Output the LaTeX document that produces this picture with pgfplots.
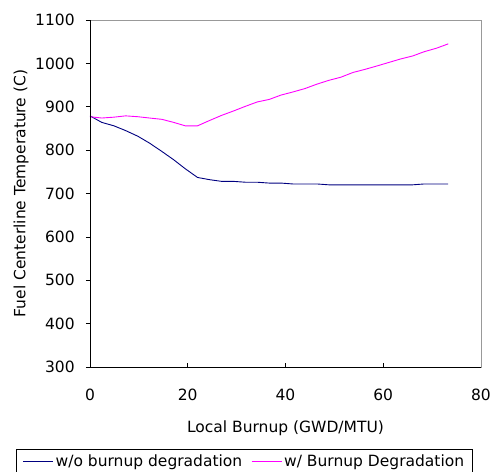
\documentclass[border=0pt]{standalone}
\usepackage{pgfplots}
\pgfplotsset{compat=1.18}
\usepackage{fontspec}
\setmainfont{DejaVu Sans}
\definecolor{navyline}{HTML}{000080}
\definecolor{magline}{HTML}{FF00FF}
\newcommand{\tf}{\fontsize{15.5pt}{18pt}\selectfont}
\begin{document}
\tf
\begin{tikzpicture}[x=1pt,y=1pt]
\useasboundingbox (-90,-105) rectangle (401,367);
\begin{axis}[
  at={(0,0)}, anchor=south west,
  width=391pt, height=347pt, scale only axis,
  xmin=0, xmax=80, ymin=300, ymax=1100,
  xtick={0,20,40,60,80}, ytick={300,400,...,1100},
  xtick pos=bottom, ytick pos=left,
  xtick align=inside, ytick align=outside,
  major tick length=4pt,
  tick style={black, line width=0.6pt},
  axis line style={draw=gray!80, line width=0.8pt},
  /pgf/number format/assume math mode=true,
  /pgf/number format/1000 sep={},
  ticklabel style={font=\tf},
  xticklabel style={yshift=-17pt},
  yticklabel style={xshift=-6pt},
  label style={font=\tf},
  xlabel={Local Burnup (GWD/MTU)},
  ylabel={Fuel Centerline Temperature (C)},
  xlabel style={yshift=-9pt},
  ylabel style={yshift=-4pt},
  legend columns=2,
  legend style={at={(0.395,-0.236)}, anchor=north, draw=black, line width=0.6pt,
     font=\tf, inner xsep=6pt, inner ysep=3.5pt,
     /tikz/every even column/.append style={column sep=7pt}},
  legend image code/.code={\draw[#1] (0pt,0pt) -- (30pt,0pt);},
  clip=false,
]
\addplot[navyline, line width=0.9pt] coordinates {
(0,879) (2.4,864) (4.9,856) (7.3,845) (9.8,832) (12.2,816) (14.7,797) (17.1,778)
(19.5,757) (22.0,737) (24.4,732) (26.9,728) (29.3,728) (31.8,726) (34.2,726)
(36.7,724) (39.1,724) (41.5,722) (44.0,722) (46.4,722) (48.9,720) (51.3,720)
(53.8,720) (56.2,720) (58.7,720) (61.1,720) (63.5,720) (66.0,720) (68.4,722)
(70.9,722) (73.3,722)};
\addlegendentry{w/o burnup degradation}
\addplot[magline, line width=0.9pt] coordinates {
(0,877) (2.4,874) (4.9,876) (7.3,879) (9.8,877) (12.2,874) (14.7,871) (17.1,864)
(19.5,856) (22.0,856) (24.4,868) (26.9,880) (29.3,890) (31.8,901) (34.2,911)
(36.7,917) (39.1,927) (41.5,934) (44.0,942) (46.4,952) (48.9,961) (51.3,968)
(53.8,979) (56.2,986) (58.7,994) (61.1,1002) (63.5,1010) (66.0,1017) (68.4,1027)
(70.9,1035) (73.3,1045)};
\addlegendentry{w/ Burnup Degradation}
\draw[black, line width=0.8pt] (rel axis cs:0,1) -- (rel axis cs:0,0) -- (rel axis cs:1,0);
\end{axis}
\end{tikzpicture}
\end{document}
